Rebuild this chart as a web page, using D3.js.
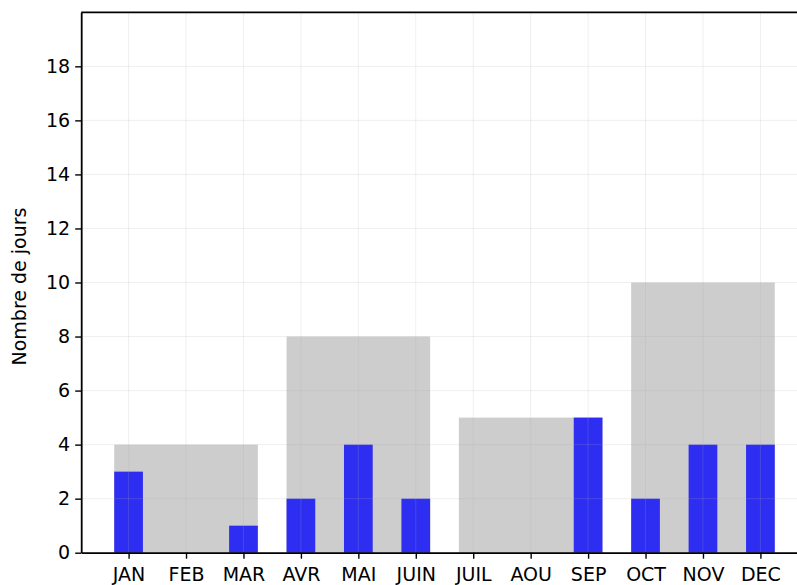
<!DOCTYPE html>
<html>
<head>
<meta charset="utf-8">
<script src="https://cdn.jsdelivr.net/npm/d3@7"></script>
<style>
  html, body { margin: 0; padding: 0; background: #ffffff; }
  svg { display: block; }
  text { font-family: "DejaVu Sans", sans-serif; fill: #000; }
</style>
</head>
<body>
<svg id="chart" width="797" height="585"></svg>
<script>
const months = ["JAN","FEB","MAR","AVR","MAI","JUIN","JUIL","AOU","SEP","OCT","NOV","DEC"];
const monthlyDays = [3, 0, 1, 2, 4, 2, 0, 0, 5, 2, 4, 4];
const quarterCenters = [1, 4, 7, 10];
const quarterlyDays = [4, 8, 5, 10];
const yTicks = [0, 2, 4, 6, 8, 10, 12, 14, 16, 18];
const yLabel = "Nombre de jours";

(function () {
const svg = d3.select("#chart");
const mLeft = 81.2, mRight = 807.8, mTop = 12.3, mBottom = 552.7;

const x = d3.scaleLinear().domain([-0.825, 11.825]).range([mLeft, mRight]);
const y = d3.scaleLinear().domain([0, 20]).range([mBottom, mTop]);

const monthBarW = 0.5, quarterBarW = 2.5;

// Quarterly grey bars
svg.append("g").selectAll("rect")
  .data(quarterCenters.map((c, i) => ({c, v: quarterlyDays[i]})))
  .join("rect")
  .attr("x", d => x(d.c - quarterBarW / 2))
  .attr("width", d => x(d.c + quarterBarW / 2) - x(d.c - quarterBarW / 2))
  .attr("y", d => y(d.v))
  .attr("height", d => y(0) - y(d.v))
  .attr("fill", "#cdcdcd");

// Monthly blue bars
svg.append("g").selectAll("rect")
  .data(monthlyDays.map((v, i) => ({i, v})))
  .join("rect")
  .attr("x", d => x(d.i - monthBarW / 2))
  .attr("width", d => x(d.i + monthBarW / 2) - x(d.i - monthBarW / 2))
  .attr("y", d => y(d.v))
  .attr("height", d => y(0) - y(d.v))
  .attr("fill", "#2e2ef2");

// Grid (drawn above bars, faint)
const grid = svg.append("g").attr("stroke", "#b0b0b0").attr("stroke-opacity", 0.2).attr("stroke-width", 1);
grid.selectAll("line.h").data(yTicks).join("line").attr("class", "h")
  .attr("x1", mLeft).attr("x2", mRight)
  .attr("y1", d => y(d)).attr("y2", d => y(d));
grid.selectAll("line.v").data(d3.range(months.length)).join("line").attr("class", "v")
  .attr("y1", mTop).attr("y2", mBottom)
  .attr("x1", d => x(d)).attr("x2", d => x(d));

// Axes
const yAxis = svg.append("g")
  .attr("transform", `translate(${mLeft},0)`)
  .call(d3.axisLeft(y).tickValues(yTicks).tickSize(6).tickPadding(5).tickSizeOuter(0));
const xAxis = svg.append("g")
  .attr("transform", `translate(0,${mBottom})`)
  .call(d3.axisBottom(x).tickValues(d3.range(months.length)).tickFormat(i => months[i])
    .tickSize(6).tickPadding(9).tickSizeOuter(0));

[yAxis, xAxis].forEach(g => {
  g.selectAll("text").attr("font-size", 19).attr("font-family", "DejaVu Sans, sans-serif").attr("fill", "#000");
  g.selectAll("line").attr("stroke", "#000").attr("stroke-width", 1.4);
  g.select(".domain").attr("stroke", "#000").attr("stroke-width", 1.8);
});

// Top and right spines
svg.append("line").attr("x1", mLeft).attr("x2", mRight).attr("y1", mTop).attr("y2", mTop)
  .attr("stroke", "#000").attr("stroke-width", 1.8);
svg.append("line").attr("x1", mRight).attr("x2", mRight).attr("y1", mTop).attr("y2", mBottom)
  .attr("stroke", "#000").attr("stroke-width", 1.8);

// Y label
svg.append("text")
  .attr("transform", `translate(26,${(mTop + mBottom) / 2 + 4}) rotate(-90)`)
  .attr("text-anchor", "middle")
  .attr("font-size", 19)
  .text(yLabel);
})();
</script>
</body>
</html>
